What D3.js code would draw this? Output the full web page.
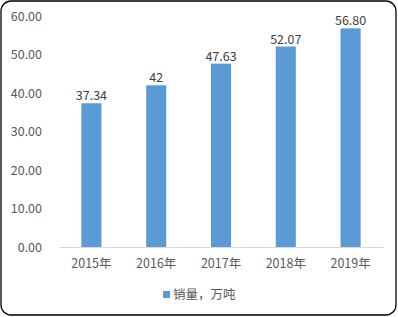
<!DOCTYPE html>
<html>
<head>
<meta charset="UTF-8">
<script src="https://d3js.org/d3.v7.min.js"></script>
<style>
    body { margin: 0; background: #fff; }
    text { font-family: "Microsoft YaHei", "Noto Sans CJK SC", "DejaVu Sans", sans-serif; }
</style>
</head>
<body>
<svg id="chart" width="398" height="317"></svg>
<script>
    // chart data
    var years = ['2015年', '2016年', '2017年', '2018年', '2019年']
    var sales = [37.34, 42, 47.63, 52.07, 56.80]
    var salesLabels = ['37.34', '42', '47.63', '52.07', '56.80']
    var yTicks = [0, 10, 20, 30, 40, 50, 60]
    var seriesName = '销量，万吨'

    var svg = d3.select('#chart')

    // outer frame
    svg.append('rect')
        .attr('x', 1).attr('y', 1)
        .attr('width', 395).attr('height', 314)
        .attr('rx', 10).attr('ry', 10)
        .attr('fill', '#fff')
        .attr('stroke', '#000')
        .attr('stroke-width', 1.3)

    var x = d3.scaleBand().domain(years).range([59, 383]).paddingInner(0.69).paddingOuter(0.345)
    var y = d3.scaleLinear().domain([0, 60]).range([247, 16])

    // y axis labels
    var yAxis = svg.append('g').attr('transform', 'translate(42,0)')
        .call(d3.axisLeft(y).tickValues(yTicks).tickSize(0).tickPadding(0).tickFormat(d3.format('.2f')))
    yAxis.select('.domain').remove()
    yAxis.selectAll('text').attr('fill', '#595959').style('font-size', '12.5px')

    // bars
    svg.append('g').selectAll('rect').data(sales).enter().append('rect')
        .attr('x', function(d, i){ return x(years[i]) })
        .attr('y', function(d){ return y(d) })
        .attr('width', x.bandwidth())
        .attr('height', function(d){ return y(0) - y(d) })
        .attr('fill', '#5B9BD5')

    // value labels
    svg.append('g').selectAll('text').data(sales).enter().append('text')
        .attr('x', function(d, i){ return x(years[i]) + x.bandwidth() / 2 })
        .attr('y', function(d){ return y(d) - 3 })
        .attr('text-anchor', 'middle')
        .attr('fill', '#404040')
        .style('font-size', '12.5px')
        .text(function(d, i){ return salesLabels[i] })

    // x axis
    var xAxis = svg.append('g').attr('transform', 'translate(0,' + y(0) + ')')
        .call(d3.axisBottom(x).tickSize(0).tickPadding(12))
    xAxis.select('.domain').attr('stroke', '#d9d9d9')
    xAxis.selectAll('text').attr('fill', '#595959').style('font-size', '12.5px')

    // legend
    svg.append('rect').attr('x', 163).attr('y', 291).attr('width', 7).attr('height', 7).attr('fill', '#5B9BD5')
    svg.append('text').attr('x', 173).attr('y', 299).attr('fill', '#595959')
        .style('font-size', '12.5px').text(seriesName)
</script>
</body>
</html>
